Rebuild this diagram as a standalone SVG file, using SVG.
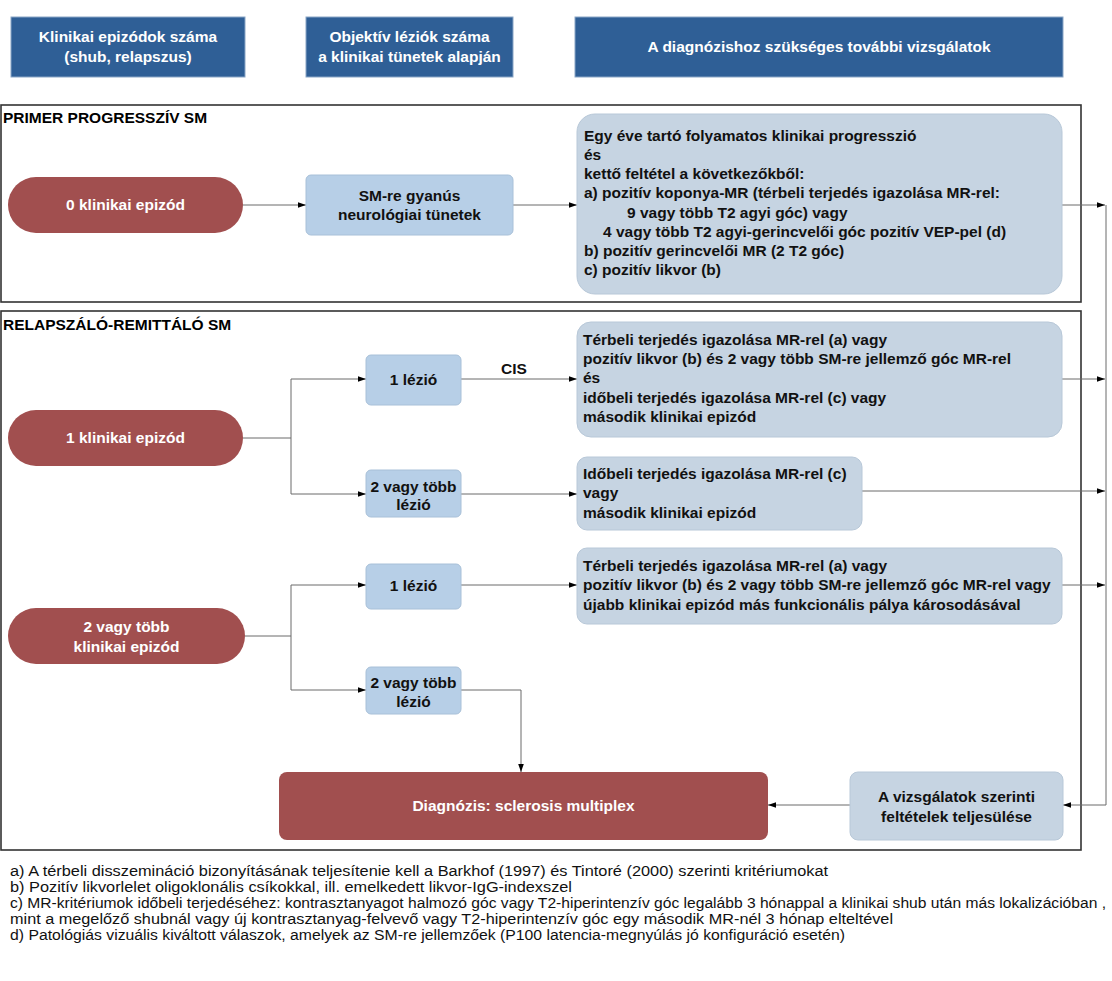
<svg xmlns="http://www.w3.org/2000/svg" width="1112" height="981" viewBox="0 0 1112 981">
<style>
text{font-family:"Liberation Sans",Arial,sans-serif;}
.hdr{fill:#2f5f96;stroke:#8aa6c6;stroke-width:1;}
.ht{fill:#ffffff;font-weight:bold;font-size:15.5px;text-anchor:middle;}
.red{fill:#a14f4f;}
.rt{fill:#ffffff;font-weight:bold;font-size:15.5px;text-anchor:middle;}
.lb{fill:#b7cfe7;stroke:#a8c0d8;stroke-width:1;}
.gb{fill:#c6d4e2;stroke:#b8c8d8;stroke-width:1;}
.ct{fill:#111;font-weight:bold;font-size:15.5px;text-anchor:middle;}
.lt{fill:#111;font-weight:bold;font-size:15.5px;}
.frame{fill:none;stroke:#333;stroke-width:1.6;}
.sec{fill:#000;font-weight:bold;font-size:15.5px;}
.fn{fill:#111;font-size:15.5px;}
.c{fill:none;stroke:#6a6a6a;stroke-width:1;}
</style>
<defs>
<marker id="ar" viewBox="0 0 10 10" refX="10" refY="5" markerWidth="9" markerHeight="8" markerUnits="userSpaceOnUse" orient="auto">
<path d="M0,1.5 L10,5 L0,8.5 Z" fill="#000"/>
</marker>
</defs>

<g id="header1"><rect class="hdr" x="11" y="17" width="234" height="60"/><text class="ht" x="128" y="42">Klinikai epizódok száma</text><text class="ht" x="128" y="62">(shub, relapszus)</text></g>
<g id="header2"><rect class="hdr" x="306" y="17" width="207" height="60"/><text class="ht" x="409.5" y="42">Objektív léziók száma</text><text class="ht" x="409.5" y="62">a klinikai tünetek alapján</text></g>
<g id="header3"><rect class="hdr" x="575" y="17" width="488" height="60"/><text class="ht" x="819" y="52">A diagnózishoz szükséges további vizsgálatok</text></g>

<g id="frame-pp"><rect class="frame" x="1" y="105" width="1080" height="197"/><text class="sec" x="3" y="123">PRIMER PROGRESSZÍV SM</text></g>
<g id="frame-rr"><rect class="frame" x="1" y="311" width="1080" height="539"/><text class="sec" x="3" y="330">RELAPSZÁLÓ-REMITTÁLÓ SM</text></g>

<g id="connectors">
<line class="c" x1="243" y1="205" x2="306" y2="205" marker-end="url(#ar)"/>
<line class="c" x1="513" y1="205" x2="577" y2="205" marker-end="url(#ar)"/>
<line class="c" x1="1062" y1="205" x2="1105" y2="205" marker-end="url(#ar)"/>
<polyline class="c" points="243,438 291,438"/>
<polyline class="c" points="291,379 291,494"/>
<line class="c" x1="291" y1="379" x2="366" y2="379" marker-end="url(#ar)"/>
<line class="c" x1="291" y1="494" x2="366" y2="494" marker-end="url(#ar)"/>
<line class="c" x1="461" y1="379" x2="577" y2="379" marker-end="url(#ar)"/>
<text class="ct" x="514" y="374">CIS</text>
<line class="c" x1="461" y1="494" x2="577" y2="494" marker-end="url(#ar)"/>
<line class="c" x1="1062" y1="379" x2="1105" y2="379" marker-end="url(#ar)"/>
<line class="c" x1="862" y1="491" x2="1105" y2="491" marker-end="url(#ar)"/>
<polyline class="c" points="245,636 291,636"/>
<polyline class="c" points="291,585 291,690"/>
<line class="c" x1="291" y1="585" x2="366" y2="585" marker-end="url(#ar)"/>
<line class="c" x1="291" y1="690" x2="366" y2="690" marker-end="url(#ar)"/>
<line class="c" x1="461" y1="585" x2="577" y2="585" marker-end="url(#ar)"/>
<line class="c" x1="1062" y1="585" x2="1105" y2="585" marker-end="url(#ar)"/>
<polyline class="c" points="461,690 521,690 521,772" marker-end="url(#ar)"/>
<polyline class="c" points="1106,205 1106,805 1063,805" marker-end="url(#ar)"/>
<line class="c" x1="850" y1="805" x2="768" y2="805" marker-end="url(#ar)"/>
</g>

<g id="pill-0"><rect class="red" x="8" y="177" width="235" height="56" rx="28"/><text class="rt" x="125.5" y="210">0 klinikai epizód</text></g>
<g id="sm-gyanus"><rect class="lb" x="306" y="175" width="207" height="60" rx="5"/><text class="ct" x="409.5" y="201">SM-re gyanús</text><text class="ct" x="409.5" y="220">neurológiai tünetek</text></g>
<g id="pp-criteria"><rect class="gb" x="577" y="114" width="485" height="180" rx="18"/>
<text class="lt" x="584" y="141">Egy éve tartó folyamatos klinikai progresszió</text>
<text class="lt" x="584" y="160">és</text>
<text class="lt" x="584" y="179">kettő feltétel a következőkből:</text>
<text class="lt" x="584" y="198">a) pozitív koponya-MR (térbeli terjedés igazolása MR-rel:</text>
<text class="lt" x="627" y="218">9 vagy több T2 agyi góc) vagy</text>
<text class="lt" x="603" y="237">4 vagy több T2 agyi-gerincvelői góc pozitív VEP-pel (d)</text>
<text class="lt" x="584" y="256">b) pozitív gerincvelői MR (2 T2 góc)</text>
<text class="lt" x="584" y="275">c) pozitív likvor (b)</text>
</g>

<g id="pill-1"><rect class="red" x="8" y="410" width="235" height="56" rx="28"/><text class="rt" x="125.5" y="443">1 klinikai epizód</text></g>
<g id="lezio-1a"><rect class="lb" x="366" y="355" width="95" height="50" rx="5"/><text class="ct" x="413.5" y="385">1 lézió</text></g>
<g id="lezio-2a"><rect class="lb" x="366" y="470" width="95" height="47" rx="5"/><text class="ct" x="413.5" y="492">2 vagy több</text><text class="ct" x="413.5" y="510">lézió</text></g>
<g id="rr-criteria-1"><rect class="gb" x="577" y="322" width="485" height="115" rx="14"/>
<text class="lt" x="583" y="345">Térbeli terjedés igazolása MR-rel (a) vagy</text>
<text class="lt" x="583" y="364">pozitív likvor (b) és 2 vagy több SM-re jellemző góc MR-rel</text>
<text class="lt" x="583" y="383">és</text>
<text class="lt" x="583" y="403">időbeli terjedés igazolása MR-rel (c) vagy</text>
<text class="lt" x="583" y="422">második klinikai epizód</text>
</g>
<g id="rr-criteria-2"><rect class="gb" x="577" y="457" width="285" height="73" rx="10"/>
<text class="lt" x="583" y="479">Időbeli terjedés igazolása MR-rel (c)</text>
<text class="lt" x="583" y="498">vagy</text>
<text class="lt" x="583" y="518">második klinikai epizód</text>
</g>

<g id="pill-2"><rect class="red" x="8" y="608" width="237" height="56" rx="28"/><text class="rt" x="126.5" y="632">2 vagy több</text><text class="rt" x="126.5" y="652">klinikai epizód</text></g>
<g id="lezio-1b"><rect class="lb" x="366" y="564" width="95" height="45" rx="5"/><text class="ct" x="413.5" y="591">1 lézió</text></g>
<g id="lezio-2b"><rect class="lb" x="366" y="667" width="95" height="47" rx="5"/><text class="ct" x="413.5" y="688">2 vagy több</text><text class="ct" x="413.5" y="707">lézió</text></g>
<g id="rr-criteria-3"><rect class="gb" x="577" y="548" width="485" height="76" rx="10"/>
<text class="lt" x="583" y="571">Térbeli terjedés igazolása MR-rel (a) vagy</text>
<text class="lt" x="583" y="590">pozitív likvor (b) és 2 vagy több SM-re jellemző góc MR-rel vagy</text>
<text class="lt" x="583" y="610">újabb klinikai epizód más funkcionális pálya károsodásával</text>
</g>

<g id="diagnozis"><rect class="red" x="279" y="772" width="489" height="68" rx="8"/><text class="rt" x="523.5" y="811">Diagnózis: sclerosis multiplex</text></g>
<g id="feltetelek"><rect class="gb" x="850" y="772" width="213" height="68" rx="8"/><text class="ct" x="956.5" y="802">A vizsgálatok szerinti</text><text class="ct" x="956.5" y="822">feltételek teljesülése</text></g>

<g id="footnotes">
<text class="fn" x="10" y="876" textLength="818" lengthAdjust="spacingAndGlyphs">a) A térbeli disszemináció bizonyításának teljesítenie kell a Barkhof (1997) és Tintoré (2000) szerinti kritériumokat</text>
<text class="fn" x="10" y="892" textLength="562" lengthAdjust="spacingAndGlyphs">b) Pozitív likvorlelet oligoklonális csíkokkal, ill. emelkedett likvor-IgG-indexszel</text>
<text class="fn" x="10" y="908" textLength="1096" lengthAdjust="spacingAndGlyphs">c) MR-kritériumok időbeli terjedéséhez: kontrasztanyagot halmozó góc vagy T2-hiperintenzív góc legalább 3 hónappal a klinikai shub után más lokalizációban ,</text>
<text class="fn" x="10" y="924" textLength="883" lengthAdjust="spacingAndGlyphs">mint a megelőző shubnál vagy új kontrasztanyag-felvevő vagy T2-hiperintenzív góc egy második MR-nél 3 hónap elteltével</text>
<text class="fn" x="10" y="940" textLength="835" lengthAdjust="spacingAndGlyphs">d) Patológiás vizuális kiváltott válaszok, amelyek az SM-re jellemzőek (P100 latencia-megnyúlás jó konfiguráció esetén)</text>
</g>
</svg>
